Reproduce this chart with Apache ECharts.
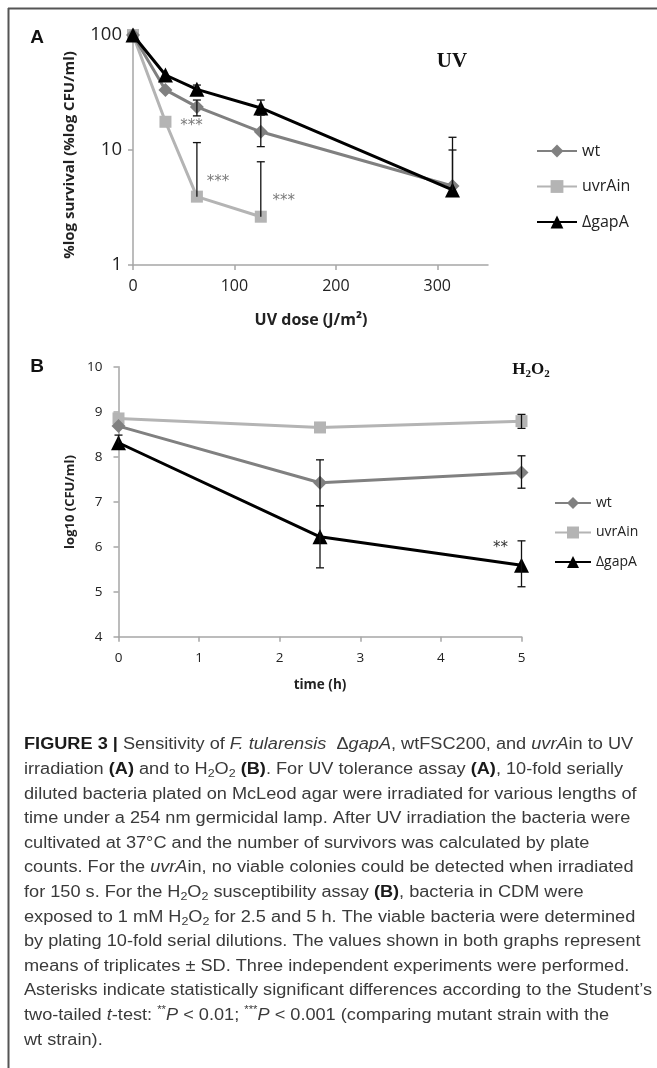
<!DOCTYPE html>
<html><head><meta charset="utf-8">
<script src="https://cdn.jsdelivr.net/npm/echarts@6/dist/echarts.min.js"></script>
<style>html,body{margin:0;padding:0;background:#fff}#c{width:657px;height:1068px}</style>
</head><body><div id="c"></div>
<script>
// ---------- Panel A: UV ----------
const uvDose = [0, 32, 63, 126, 315];
const uvWt = [100, 33.3, 23.7, 14.4, 4.86];
const uvWtLow = [null, null, 19.8, 10.7, null];
const uvWtHigh = [null, null, 27.2, 20.1, 10.0];
const uvUvrAin = [100, 17.6, 3.93, 2.63];
const uvUvrAinLow = [null, null, null, null];
const uvUvrAinHigh = [null, null, 11.6, 7.9];
const uvGapA = [100, 44.9, 33.7, 23.2, 4.49];
const uvGapALow = [null, null, null, null, null];
const uvGapAHigh = [null, null, 36.7, 27.2, 12.9];
const uvTicksX = [0, 100, 200, 300];
const uvStars = [['***', 32, 17.6], ['***', 63, 3.93], ['***', 126, 2.63]];

// ---------- Panel B: H2O2 ----------
const h2Time = [0, 2.5, 5];
const h2Wt = [8.68, 7.42, 7.65];
const h2WtLow = [null, 6.91, 7.30];
const h2WtHigh = [null, 7.93, 8.02];
const h2UvrAin = [8.85, 8.65, 8.79];
const h2UvrAinLow = [null, null, 8.63];
const h2UvrAinHigh = [null, null, 8.94];
const h2GapA = [8.31, 6.22, 5.59];
const h2GapALow = [null, 5.53, 5.11];
const h2GapAHigh = [8.48, 6.91, 6.13];
const h2Stars = [['**', 5, 5.59]];

const seriesNames = ['wt', 'uvrAin', 'ΔgapA'];

const C_WT = '#808080', C_UV = '#b4b4b4', C_GAP = '#000000', C_AX = '#a6a6a6';
const SANS = '"Open Sans", Lato, sans-serif';

function pairs(xs, ys) { return ys.map((y, i) => [xs[i], y]); }
function errData(xs, ys, lows, highs) {
  const out = [];
  ys.forEach((y, i) => {
    const lo = lows[i], hi = highs[i];
    if (lo == null && hi == null) return;
    out.push([xs[i], lo == null ? y : lo, hi == null ? y : hi, lo == null ? 0 : 1, hi == null ? 0 : 1]);
  });
  return out;
}
function errSeries(data, gi) {
  return {
    type: 'custom', xAxisIndex: gi, yAxisIndex: gi, z: 5, silent: true, data,
    encode: { x: 0, y: [1, 2] },
    renderItem(params, api) {
      const x = api.value(0);
      const lo = api.coord([x, api.value(1)]);
      const hi = api.coord([x, api.value(2)]);
      const cw = 4, st = { stroke: '#111', lineWidth: 1.3 };
      const ch = [{ type: 'line', shape: { x1: lo[0], y1: lo[1], x2: hi[0], y2: hi[1] }, style: st }];
      if (api.value(3)) ch.push({ type: 'line', shape: { x1: lo[0] - cw, y1: lo[1], x2: lo[0] + cw, y2: lo[1] }, style: st });
      if (api.value(4)) ch.push({ type: 'line', shape: { x1: hi[0] - cw, y1: hi[1], x2: hi[0] + cw, y2: hi[1] }, style: st });
      return { type: 'group', children: ch };
    }
  };
}
function lineSeries(name, data, gi, color, symbol, size, z) {
  return {
    name, type: 'line', xAxisIndex: gi, yAxisIndex: gi, data, z,
    symbol, symbolSize: size, showSymbol: true, clip: false,
    lineStyle: { color, width: 3 }, itemStyle: { color, borderWidth: 0 },
    emphasis: { disabled: true }, animation: false
  };
}
const axLine = { show: true, lineStyle: { color: C_AX, width: 1.5 } };
const axTick = { show: true, length: 5, lineStyle: { color: C_AX, width: 1.5 } };

const chart = echarts.init(document.getElementById('c'), null, { renderer: 'canvas', width: 657, height: 1068 });

chart.setOption({
  animation: false,
  backgroundColor: '#ffffff',
  grid: [
    { left: 133, top: 35, width: 355, height: 230 },
    { left: 118.5, top: 366.7, width: 403, height: 270 }
  ],
  xAxis: [
    { gridIndex: 0, type: 'value', min: 0, max: 350, interval: 100,
      axisLine: axLine, axisTick: Object.assign({}, axTick, { customValues: uvTicksX }),
      axisLabel: { customValues: uvTicksX, fontSize: 16, color: '#222', fontFamily: SANS, margin: 13 },
      splitLine: { show: false } },
    { gridIndex: 1, type: 'value', min: 0, max: 5, interval: 1,
      axisLine: axLine, axisTick: axTick,
      axisLabel: { fontSize: 13.5, color: '#222', fontFamily: SANS, margin: 14 },
      splitLine: { show: false } }
  ],
  yAxis: [
    { gridIndex: 0, type: 'log', logBase: 10, min: 1, max: 100,
      axisLine: axLine, axisTick: axTick,
      axisLabel: { fontSize: 18.5, color: '#222', fontFamily: SANS, margin: 11 },
      splitLine: { show: false }, minorTick: { show: false } },
    { gridIndex: 1, type: 'value', min: 4, max: 10, interval: 1,
      axisLine: axLine, axisTick: axTick,
      axisLabel: { fontSize: 13.5, color: '#222', fontFamily: SANS, margin: 16 },
      splitLine: { show: false } }
  ],
  legend: [
    { data: seriesNames, orient: 'vertical', left: 531, top: 138, itemWidth: 40, itemHeight: 16, itemGap: 19.5,
      selectedMode: false, textStyle: { fontSize: 16, color: '#222', fontFamily: SANS } },
    { data: seriesNames, orient: 'vertical', left: 549, top: 491, itemWidth: 36, itemHeight: 15, itemGap: 15.5,
      selectedMode: false, textStyle: { fontSize: 14, color: '#222', fontFamily: SANS } }
  ],
  series: [
    lineSeries('uvrAin', pairs(uvDose, uvUvrAin), 0, C_UV, 'rect', 12, 2),
    lineSeries('wt', pairs(uvDose, uvWt), 0, C_WT, 'diamond', 14, 3),
    lineSeries('ΔgapA', pairs(uvDose, uvGapA), 0, C_GAP, 'triangle', 15, 4),
    errSeries(errData(uvDose, uvWt, uvWtLow, uvWtHigh), 0),
    errSeries(errData(uvDose, uvUvrAin, uvUvrAinLow, uvUvrAinHigh), 0),
    errSeries(errData(uvDose, uvGapA, uvGapALow, uvGapAHigh), 0),

    lineSeries('wt', pairs(h2Time, h2Wt), 1, C_WT, 'diamond', 14, 3),
    lineSeries('uvrAin', pairs(h2Time, h2UvrAin), 1, C_UV, 'rect', 12, 2),
    lineSeries('ΔgapA', pairs(h2Time, h2GapA), 1, C_GAP, 'triangle', 15, 4),
    errSeries(errData(h2Time, h2Wt, h2WtLow, h2WtHigh), 1),
    errSeries(errData(h2Time, h2UvrAin, h2UvrAinLow, h2UvrAinHigh), 1),
    errSeries(errData(h2Time, h2GapA, h2GapALow, h2GapAHigh), 1)
  ]
});

// ---------- graphics: titles, annotations, caption ----------
const g = [];
g.push({ type: 'line', shape: { x1: 8, y1: 8.5, x2: 657, y2: 8.5 }, style: { stroke: '#555', lineWidth: 2 } });
g.push({ type: 'line', shape: { x1: 8.5, y1: 8, x2: 8.5, y2: 1068 }, style: { stroke: '#555', lineWidth: 2 } });

function txt(x, y, text, o) {
  g.push({ type: 'text', x, y, rotation: o.rotation || 0,
    style: Object.assign({ text, textAlign: 'center', textVerticalAlign: 'middle', fill: '#222' }, o.style) });
}
txt(37, 38, 'A', { style: { font: 'bold 19px "Liberation Sans", Arial, sans-serif', fill: '#111' } });
txt(37, 367, 'B', { style: { font: 'bold 19px "Liberation Sans", Arial, sans-serif', fill: '#111' } });
txt(70, 155, '%log survival (%log CFU/ml)', { rotation: Math.PI / 2, style: { font: 'bold 15px "Open Sans", sans-serif' } });
txt(311, 320, 'UV dose (J/m²)', { style: { font: 'bold 16px "Open Sans", sans-serif' } });
txt(70, 502, 'log10 (CFU/ml)', { rotation: Math.PI / 2, style: { font: 'bold 13px "Open Sans", sans-serif' } });
txt(320, 685, 'time (h)', { style: { font: 'bold 13.5px "Open Sans", sans-serif' } });
txt(452, 62, 'UV', { style: { font: 'bold 21px "Liberation Serif", serif', fill: '#111' } });
g.push({ type: 'text', x: 531, y: 370, style: {
  text: '{h|H}{s|2}{h|O}{s|2}', textAlign: 'center', textVerticalAlign: 'middle',
  rich: {
    h: { fontFamily: '"Liberation Serif", serif', fontWeight: 'bold', fontSize: 17, lineHeight: 20, fill: '#111' },
    s: { fontFamily: '"Liberation Serif", serif', fontWeight: 'bold', fontSize: 11, lineHeight: 12, verticalAlign: 'bottom', fill: '#111' }
  } } });

const starOffsets = [[26, 4], [21, -15], [23, -16]];
uvStars.forEach((s, i) => {
  const p = chart.convertToPixel({ gridIndex: 0 }, [s[1], s[2]]);
  txt(p[0] + starOffsets[i][0], p[1] + starOffsets[i][1], s[0], { style: { font: '15px "DejaVu Sans", sans-serif', fill: '#7a7a7a' } });
});
h2Stars.forEach(s => {
  const p = chart.convertToPixel({ gridIndex: 1 }, [s[1], s[2]]);
  txt(p[0] - 21, p[1] - 17, s[0], { style: { font: '15px "DejaVu Sans", sans-serif', fill: '#333' } });
});

// caption
const capLines = [
  [['b', 'FIGURE 3 | '], ['n', 'Sensitivity of '], ['i', 'F. tularensis'], ['n', '  Δ'], ['i', 'gapA'], ['n', ', wtFSC200, and '], ['i', 'uvrA'], ['n', 'in to UV']],
  [['n', 'irradiation '], ['b', '(A)'], ['n', ' and to H'], ['sub', '2'], ['n', 'O'], ['sub', '2'], ['n', ' '], ['b', '(B)'], ['n', '. For UV tolerance assay '], ['b', '(A)'], ['n', ', 10-fold serially']],
  [['n', 'diluted bacteria plated on McLeod agar were irradiated for various lengths of']],
  [['n', 'time under a 254 nm germicidal lamp. After UV irradiation the bacteria were']],
  [['n', 'cultivated at 37°C and the number of survivors was calculated by plate']],
  [['n', 'counts. For the '], ['i', 'uvrA'], ['n', 'in, no viable colonies could be detected when irradiated']],
  [['n', 'for 150 s. For the H'], ['sub', '2'], ['n', 'O'], ['sub', '2'], ['n', ' susceptibility assay '], ['b', '(B)'], ['n', ', bacteria in CDM were']],
  [['n', 'exposed to 1 mM H'], ['sub', '2'], ['n', 'O'], ['sub', '2'], ['n', ' for 2.5 and 5 h. The viable bacteria were determined']],
  [['n', 'by plating 10-fold serial dilutions. The values shown in both graphs represent']],
  [['n', 'means of triplicates ± SD. Three independent experiments were performed.']],
  [['n', 'Asterisks indicate statistically significant differences according to the Student\u2019s']],
  [['n', 'two-tailed '], ['i', 't'], ['n', '-test: '], ['sup', '**'], ['i', 'P'], ['n', ' < 0.01; '], ['sup', '***'], ['i', 'P'], ['n', ' < 0.001 (comparing mutant strain with the']],
  [['n', 'wt strain).']]
];
const CF = '"Liberation Sans", Arial, sans-serif';
const CS = 16;
const mc = document.createElement('canvas').getContext('2d');
mc.font = CS + 'px ' + CF;
const refW = mc.measureText(capLines[10].map(s => s[1]).join('')).width;
const capScale = 628 / refW;
const capRich = {
  n: { fontFamily: CF, fontSize: CS, lineHeight: 20, fill: '#3a3a3a' },
  b: { fontFamily: CF, fontSize: CS, fontWeight: 'bold', lineHeight: 20, fill: '#1a1a1a' },
  i: { fontFamily: CF, fontSize: CS, fontStyle: 'italic', lineHeight: 20, fill: '#3a3a3a' },
  sub: { fontFamily: CF, fontSize: 11, lineHeight: 12, verticalAlign: 'bottom', fill: '#3a3a3a' },
  sup: { fontFamily: CF, fontSize: 10, lineHeight: 12, verticalAlign: 'top', fill: '#3a3a3a' }
};
capLines.forEach((line, i) => {
  const text = line.map(s => '{' + s[0] + '|' + s[1] + '}').join('');
  g.push({ type: 'text', x: 24, y: 745 + i * 24.6, scaleX: capScale, scaleY: 1, originX: 0, originY: 0,
    style: { text, rich: capRich, textAlign: 'left', textVerticalAlign: 'middle', fontFamily: CF, fontSize: CS, lineHeight: 20 } });
});

chart.setOption({ graphic: { elements: g } });
</script>
</body></html>
